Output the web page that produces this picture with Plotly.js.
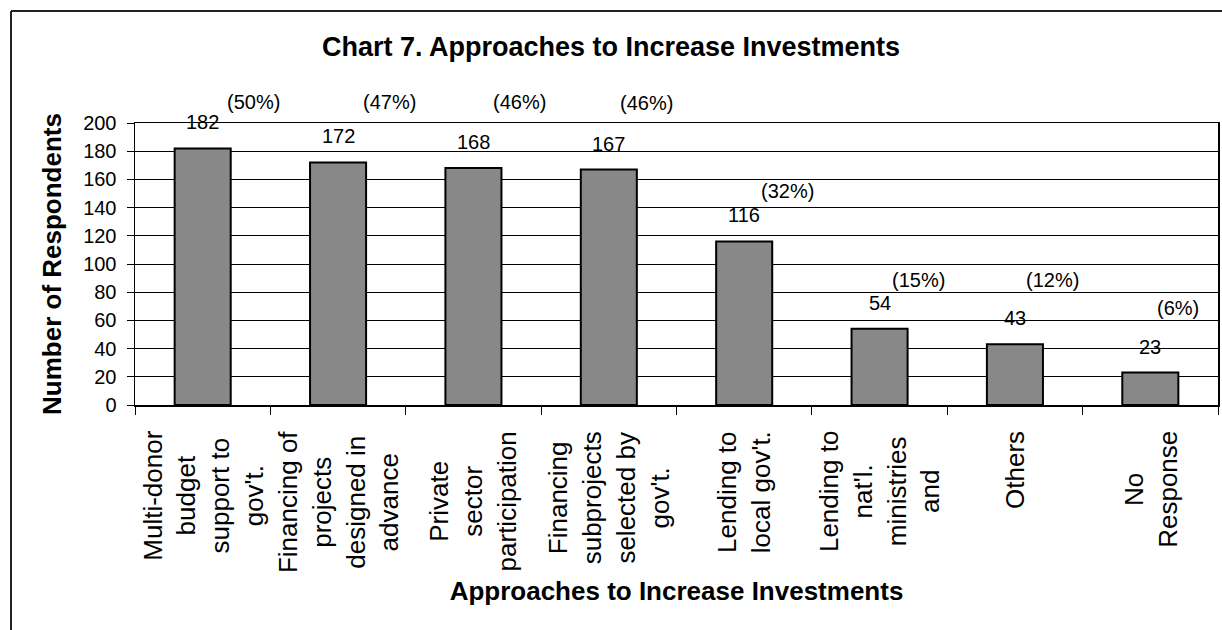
<!DOCTYPE html>
<html>
<head>
<meta charset="utf-8">
<script src="https://cdn.plot.ly/plotly-3.0.1.min.js"></script>
<style>
  html, body { margin: 0; padding: 0; background: #ffffff; }
  #chart { width: 1222px; height: 630px; }
</style>
</head>
<body>
<div id="chart"></div>
<script>
// Survey answers: approaches to increase investments
const categories = [
  "Multi-donor budget support to gov't.",
  "Financing of projects designed in advance",
  "Private sector participation",
  "Financing subprojects selected by gov't.",
  "Lending to local gov't.",
  "Lending to nat'l. ministries and",
  "Others",
  "No Response"
];
const tickLabels = [
  "Multi-donor<br>budget<br>support to<br>gov't.",
  "Financing of<br>projects<br>designed in<br>advance",
  "Private<br>sector<br>participation",
  "Financing<br>subprojects<br>selected by<br>gov't.",
  "Lending to<br>local gov't.",
  "Lending to<br>nat'l.<br>ministries<br>and",
  "Others",
  "No<br>Response"
];
const respondents = [182, 172, 168, 167, 116, 54, 43, 23];
const sharePercent = [50, 47, 46, 46, 32, 15, 12, 6];

// Placement of the percentage labels relative to each bar top (pixels)
const shareShiftX = [51, 51, 46, 38, 43, 39, 38, 28];
const shareShiftY = [46, 60, 66, 67, 50, 49, 64, 65];

const FONT = "'Liberation Sans', Arial, Helvetica, sans-serif";

const M = { l: 135, r: 4, t: 123, b: 225 };
const W = 1222, H = 630;
const plotW = W - M.l - M.r, plotH = H - M.t - M.b;
const px2paperX = px => (px - M.l) / plotW;
const px2paperY = py => (H - M.b - py) / plotH;

const trace = {
  type: 'bar',
  x: categories,
  y: respondents,
  marker: {
    color: '#8a8a8a',
    pattern: { shape: '.', fgcolor: '#606060', bgcolor: '#a8a8a8', size: 2, solidity: 0.5 },
    line: { color: '#000000', width: 2 }
  },
  hoverinfo: 'x+y',
  showlegend: false
};

const annotations = [];
categories.forEach((c, i) => {
  // value label above the bar
  annotations.push({
    x: c, y: respondents[i], xref: 'x', yref: 'y',
    text: String(respondents[i]), showarrow: false,
    yanchor: 'middle', yshift: 26,
    font: { family: FONT, size: 20, color: '#000' }
  });
  // percentage label
  annotations.push({
    x: c, y: respondents[i], xref: 'x', yref: 'y',
    text: '(' + sharePercent[i] + '%)', showarrow: false,
    yanchor: 'middle', xshift: shareShiftX[i], yshift: shareShiftY[i],
    font: { family: FONT, size: 20, color: '#000' }
  });
  // wrapped, rotated category label below the axis
  annotations.push({
    x: c, xref: 'x', y: px2paperY(429), yref: 'paper',
    text: tickLabels[i], showarrow: false, textangle: -90,
    align: 'center', xanchor: 'center', yanchor: 'top',
    font: { family: FONT, size: 26, color: '#000' }
  });
});

// chart frame (top and left edges)
const frame = { color: '#222222', width: 2 };
const shapes = [
  { type: 'line', xref: 'paper', yref: 'paper',
    x0: px2paperX(11), x1: px2paperX(1224), y0: px2paperY(11), y1: px2paperY(11), line: frame },
  { type: 'line', xref: 'paper', yref: 'paper',
    x0: px2paperX(11), x1: px2paperX(11), y0: px2paperY(11), y1: px2paperY(632), line: frame }
];

const layout = {
  width: W, height: H,
  margin: { l: M.l, r: M.r, t: M.t, b: M.b, pad: 0 },
  paper_bgcolor: '#ffffff',
  plot_bgcolor: '#ffffff',
  font: { family: FONT, color: '#000' },
  bargap: 0.586,
  title: {
    text: 'Chart 7. Approaches to Increase Investments',
    font: { family: FONT, size: 27, weight: 'bold', color: '#000' },
    x: 0.5, xref: 'container', xanchor: 'center',
    y: 1 - 47 / H, yref: 'container', yanchor: 'middle'
  },
  xaxis: {
    type: 'category',
    showticklabels: false,
    ticks: 'outside', tickson: 'boundaries', ticklen: 8, tickwidth: 1, tickcolor: '#000',
    showline: true, linecolor: '#000', linewidth: 1.5, mirror: true,
    showgrid: false, zeroline: false,
    title: {
      text: 'Approaches to Increase Investments',
      font: { family: FONT, size: 26, weight: 'bold', color: '#000' },
      standoff: 176
    },
    automargin: false
  },
  yaxis: {
    range: [0, 200], dtick: 20, tick0: 0,
    ticks: 'outside', ticklen: 7, tickwidth: 1, tickcolor: '#000',
    ticklabelstandoff: 6,
    tickfont: { family: FONT, size: 20, color: '#000' },
    showline: true, linecolor: '#000', linewidth: 1.5, mirror: true,
    showgrid: true, gridcolor: '#000', gridwidth: 1,
    zeroline: false,
    title: {
      text: 'Number of Respondents',
      font: { family: FONT, size: 26, weight: 'bold', color: '#000' },
      standoff: 14
    },
    automargin: false
  },
  annotations: annotations,
  shapes: shapes
};

Plotly.newPlot('chart', [trace], layout, { displayModeBar: false, staticPlot: true });
</script>
</body>
</html>
